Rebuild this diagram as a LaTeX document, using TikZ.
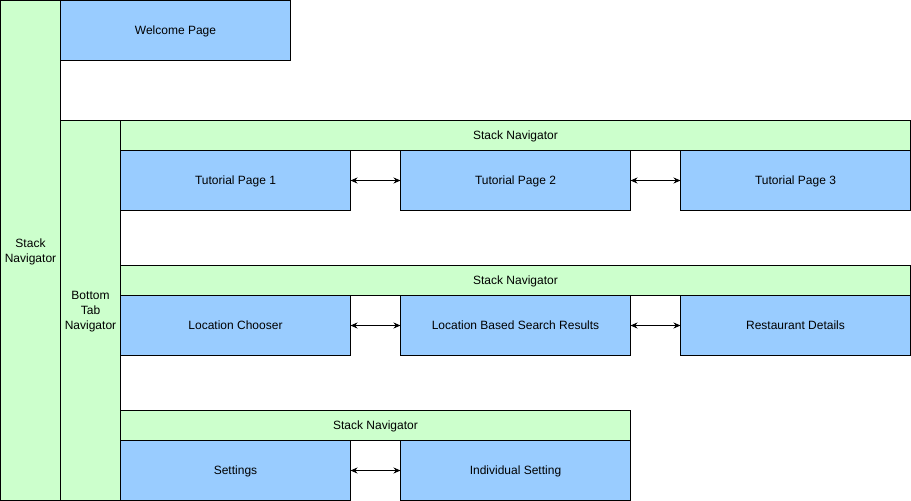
\documentclass[tikz,border=0pt]{standalone}
\usepackage{fontspec}
\setmainfont{Liberation Sans}
\usetikzlibrary{positioning,arrows.meta}
\definecolor{navgreen}{HTML}{CCFFCC}
\definecolor{pageblue}{HTML}{99CCFF}
\tikzset{navbox/.style={draw,fill=navgreen,line width=1pt,inner sep=0pt,outer sep=0pt,anchor=north west,align=center,text depth=0pt,font=\fontsize{12}{15}\selectfont}}
\tikzset{pagebox/.style={draw,fill=pageblue,line width=1pt,inner sep=0pt,outer sep=0pt,anchor=north west,minimum width=230pt,minimum height=60pt,text depth=0pt,font=\fontsize{12}{15}\selectfont}}
\tikzset{swap/.style={{Stealth[length=7pt,width=6pt]}-{Stealth[length=7pt,width=6pt]},line width=1pt}}

\begin{document}
\begin{tikzpicture}[x=1pt,y=-1pt]
	\useasboundingbox (-0.5,-0.5) rectangle (910.5,500.5);
	% outer navigators
	\node[navbox,minimum width=60pt,minimum height=500pt] (root) at (0,0) {Stack\\Navigator};
	\node[pagebox] (welcome) at (60,0) {Welcome Page};
	\node[navbox,minimum width=60pt,minimum height=380pt] (tabs) at (60,120) {Bottom\\Tab\\Navigator};

	% first stack
	\node[navbox,minimum width=790pt,minimum height=30pt] (stackA) at (120,120) {Stack Navigator};
	\node[pagebox] (tut1) at (120,150) {Tutorial Page 1};
	\node[pagebox] (tut2) at (400,150) {Tutorial Page 2};
	\node[pagebox] (tut3) at (680,150) {Tutorial Page 3};
	\draw[swap] (tut1) -- (tut2);
	\draw[swap] (tut2) -- (tut3);

	% second stack
	\node[navbox,minimum width=790pt,minimum height=30pt] (stackB) at (120,265) {Stack Navigator};
	\node[pagebox] (chooser) at (120,295) {Location Chooser};
	\node[pagebox] (results) at (400,295) {Location Based Search Results};
	\node[pagebox] (details) at (680,295) {Restaurant Details};
	\draw[swap] (chooser) -- (results);
	\draw[swap] (results) -- (details);

	% third stack
	\node[navbox,minimum width=510pt,minimum height=30pt] (stackC) at (120,410) {Stack Navigator};
	\node[pagebox] (settings) at (120,440) {Settings};
	\node[pagebox] (single) at (400,440) {Individual Setting};
	\draw[swap] (settings) -- (single);
\end{tikzpicture}
\end{document}
